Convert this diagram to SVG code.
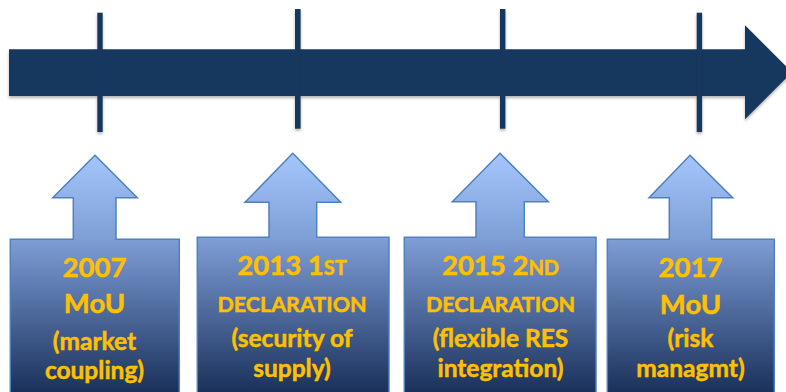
<svg xmlns="http://www.w3.org/2000/svg" width="786" height="392" viewBox="0 0 786 392">
<defs>
<filter id="sh" x="-20%" y="-20%" width="140%" height="160%">
<feDropShadow dx="0" dy="2" stdDeviation="1.5" flood-color="#000" flood-opacity="0.3"/>
</filter>
<linearGradient id="g1" gradientUnits="userSpaceOnUse" x1="0" y1="154" x2="0" y2="392">
<stop offset="0" stop-color="#a5c6fd"/>
<stop offset="0.35" stop-color="#7f9fd7"/>
<stop offset="0.65" stop-color="#506c9f"/>
<stop offset="1" stop-color="#1a315a"/>
</linearGradient>
</defs>
<style>
.tl{fill:#17375e}
.co{fill:url(#g1);stroke:#4f81bd;stroke-width:1.5}
.t{font-family:"Lato","Liberation Sans",sans-serif;font-weight:bold;fill:#ffc000;stroke:#ffc000;stroke-width:0.5;text-anchor:middle}
.big{font-size:27.5px}
.sc{font-size:21.5px}
.lc{font-size:24.5px}
</style>
<rect width="786" height="392" fill="#fff"/>
<g id="timeline" filter="url(#sh)">
<polygon class="tl" points="9,49.3 745,49.3 745,25.3 792,72.3 745,119.3 745,96 9,96"/>
<rect class="tl" x="97.3" y="12.7" width="5.4" height="119.3"/>
<rect class="tl" x="295" y="9" width="5.6" height="119.7"/>
<rect class="tl" x="500" y="9" width="5.4" height="119.7"/>
<rect class="tl" x="696.7" y="12.7" width="5.4" height="119.3"/>
</g>
<g id="callout-2007">
<polygon class="co" points="95,155.3 137.3,197.7 116,197.7 116,239.3 179.3,239.3 179.3,400 10.3,400 10.3,239.3 73.3,239.3 73.3,197.7 52.7,197.7"/>
<text class="t big" x="94.5" y="276.7">2007</text>
<text class="t big" x="94.5" y="313.3">MoU</text>
<text class="t lc" x="94.5" y="349.5">(market</text>
<text class="t lc" x="94.5" y="379">coupling)</text>
</g>
<g id="callout-2013">
<polygon class="co" points="292.7,153.3 340.7,202.3 316.7,202.3 316.7,237.3 389,237.3 389,400 197.3,400 197.3,237.3 269,237.3 269,202.3 245,202.3"/>
<text class="t big" x="292" y="274.5">2013 1<tspan font-size="20px">ST</tspan></text>
<text class="t sc" x="292" y="312.3">DECLARATION</text>
<text class="t lc" x="292" y="347.3">(security of</text>
<text class="t lc" x="292" y="377.3">supply)</text>
</g>
<g id="callout-2015">
<polygon class="co" points="500,153.3 548.3,201.7 524.3,201.7 524.3,237.3 596,237.3 596,400 404.3,400 404.3,237.3 476,237.3 476,201.7 452.3,201.7"/>
<text class="t big" x="500.5" y="274.5">2015 2<tspan font-size="20px">ND</tspan></text>
<text class="t sc" x="500.5" y="312.3">DECLARATION</text>
<text class="t lc" x="500.5" y="346.7">(flexible RES</text>
<text class="t lc" x="500.5" y="376.7">integration)</text>
</g>
<g id="callout-2017">
<polygon class="co" points="690,155.3 732.7,197.7 711.7,197.7 711.7,239.3 774.3,239.3 774.3,400 607.3,400 607.3,239.3 669.3,239.3 669.3,197.7 649,197.7"/>
<text class="t big" x="690.5" y="276.7">2017</text>
<text class="t big" x="690.5" y="314">MoU</text>
<text class="t lc" x="690.5" y="346.7">(risk</text>
<text class="t lc" x="690.5" y="376.7">managmt)</text>
</g>
</svg>
